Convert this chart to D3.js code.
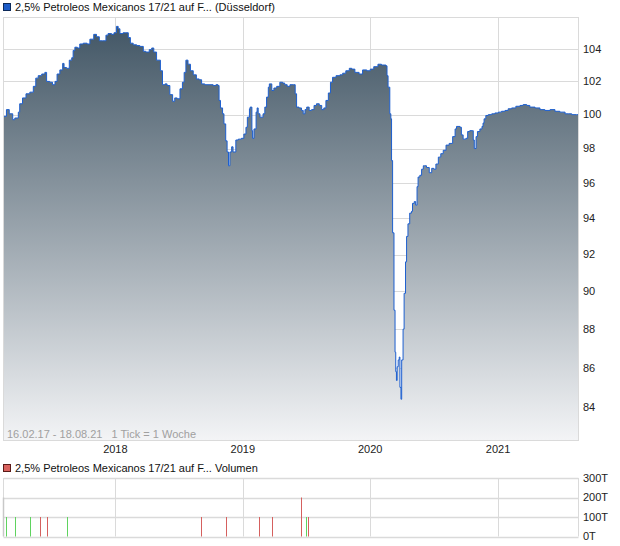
<!DOCTYPE html>
<html>
<head>
<meta charset="utf-8">
<script src="https://cdn.jsdelivr.net/npm/d3@7"></script>
<style>
  html, body { margin: 0; padding: 0; background: #fff; }
  svg { display: block; font-family: "Liberation Sans", Arial, sans-serif; }
</style>
</head>
<body>
<svg id="chart" width="620" height="546"></svg>
<script>
// ---------- DATA ----------
const priceDates = [
"2017-02-16","2017-02-23","2017-03-03","2017-03-13","2017-03-19","2017-03-29","2017-04-02","2017-04-10","2017-04-20","2017-05-01",
"2017-05-11","2017-05-18","2017-05-25","2017-06-04","2017-06-13","2017-06-18","2017-06-27","2017-07-05","2017-07-12","2017-07-18",
"2017-07-26","2017-08-03","2017-08-07","2017-08-14","2017-08-22","2017-08-29","2017-09-02","2017-09-07","2017-09-14","2017-09-21",
"2017-10-01","2017-10-12","2017-10-20","2017-10-31","2017-11-08","2017-11-16","2017-11-25","2017-12-05","2017-12-11","2017-12-21",
"2017-12-28","2018-01-04","2018-01-09","2018-01-14","2018-01-23","2018-01-31","2018-02-07","2018-02-13","2018-02-21","2018-03-03",
"2018-03-12","2018-03-22","2018-03-29","2018-04-08","2018-04-15","2018-04-21","2018-04-29","2018-05-06","2018-05-10","2018-05-16",
"2018-05-23","2018-05-29","2018-06-06","2018-06-14","2018-06-20","2018-06-27","2018-07-05","2018-07-12","2018-07-17","2018-07-22",
"2018-07-28","2018-08-04","2018-08-12","2018-08-21","2018-08-29","2018-09-05","2018-09-14","2018-09-29","2018-10-08","2018-10-16",
"2018-10-22","2018-10-25","2018-10-29","2018-11-04","2018-11-08","2018-11-13","2018-11-17","2018-11-21","2018-11-25","2018-11-30",
"2018-12-04","2018-12-12","2018-12-19","2018-12-28","2019-01-04","2019-01-10","2019-01-14","2019-01-20","2019-01-22","2019-01-27",
"2019-01-29","2019-02-02","2019-02-08","2019-02-11","2019-02-14","2019-02-19","2019-02-28","2019-03-05","2019-03-10","2019-03-15",
"2019-03-18","2019-03-25","2019-03-31","2019-04-08","2019-04-17","2019-04-25","2019-05-01","2019-05-08","2019-05-16","2019-05-27",
"2019-05-31","2019-06-04","2019-06-11","2019-06-18","2019-06-23","2019-06-28","2019-07-03","2019-07-10","2019-07-17","2019-07-24",
"2019-07-31","2019-08-08","2019-08-15","2019-08-21","2019-08-27","2019-09-03","2019-09-09","2019-09-15","2019-09-25","2019-10-06",
"2019-10-14","2019-10-23","2019-11-02","2019-11-09","2019-11-18","2019-11-30","2019-12-10","2019-12-22","2020-01-01","2020-01-11",
"2020-01-23","2020-02-02","2020-02-15","2020-02-18","2020-02-21","2020-02-26","2020-02-29","2020-03-02","2020-03-05","2020-03-09",
"2020-03-12","2020-03-14","2020-03-16","2020-03-18","2020-03-21","2020-03-24","2020-03-26","2020-03-29","2020-03-31","2020-04-04",
"2020-04-07","2020-04-11","2020-04-14","2020-04-18","2020-04-23","2020-04-28","2020-05-01","2020-05-06","2020-05-10","2020-05-14",
"2020-05-17","2020-05-22","2020-05-27","2020-06-01","2020-06-05","2020-06-10","2020-06-18","2020-06-25","2020-07-01","2020-07-07",
"2020-07-14","2020-07-21","2020-07-28","2020-08-05","2020-08-14","2020-08-24","2020-08-31","2020-09-04","2020-09-14","2020-09-18",
"2020-09-23","2020-10-01","2020-10-06","2020-10-12","2020-10-19","2020-10-22","2020-10-25","2020-10-30","2020-11-03","2020-11-10",
"2020-11-16","2020-11-19","2020-11-22","2020-11-27","2020-12-04","2020-12-14","2020-12-23","2021-01-02","2021-01-11","2021-01-21",
"2021-01-30","2021-02-09","2021-02-21","2021-03-05","2021-03-14","2021-03-24","2021-04-02","2021-04-17","2021-05-01","2021-05-15",
"2021-05-30","2021-06-13","2021-06-27","2021-07-12","2021-07-21","2021-07-31","2021-08-14","2021-08-18"
];
const priceValues = [
99.9,100.3,100.05,99.7,99.8,100.15,100.65,101.0,101.25,101.35,
101.7,102.2,102.35,102.45,102.55,102.0,101.95,101.8,102.0,102.45,
102.7,103.1,102.85,102.8,103.3,103.45,103.9,104.1,104.05,104.3,
104.35,104.3,104.6,104.9,104.75,104.5,104.5,104.85,104.95,104.9,
105.0,105.4,105.25,104.95,105.0,105.0,104.7,104.35,104.25,104.2,
104.15,103.85,103.8,103.95,104.05,103.8,103.3,103.3,102.65,101.8,
101.85,101.75,101.2,100.8,101.0,100.95,101.55,101.95,102.55,103.3,
103.05,102.65,102.4,102.15,102.1,101.85,101.8,101.8,101.75,101.8,
101.75,100.85,100.4,100.05,99.45,98.45,97.8,97.0,97.8,98.1,
97.8,98.5,98.55,98.6,98.85,99.25,99.85,100.35,100.45,99.05,
98.6,99.15,100.15,100.4,100.05,99.85,100.05,100.45,101.05,101.65,
101.85,101.45,101.6,101.7,101.95,101.9,101.8,101.7,101.8,101.8,
101.25,100.45,100.4,100.25,100.05,100.3,100.45,100.25,100.3,100.55,
100.65,100.55,100.3,100.4,100.85,101.3,101.95,102.25,102.35,102.4,
102.5,102.65,102.8,102.75,102.55,102.45,102.7,102.65,102.75,102.9,
103.05,103.0,102.95,102.35,101.65,100.05,99.75,97.3,93.2,89.0,
86.8,85.8,85.35,86.05,86.4,86.55,85.0,84.4,86.4,88.0,
89.9,91.6,93.0,93.7,94.3,94.4,94.85,94.95,94.75,95.8,
96.35,96.45,96.8,97.0,97.0,96.9,96.6,96.85,96.8,97.1,
97.5,97.7,97.9,98.2,98.3,98.7,99.15,99.3,99.25,98.8,
98.55,98.6,99.0,99.05,99.05,98.5,98.0,98.7,99.0,99.15,
99.3,99.5,99.75,99.95,100.0,100.05,100.1,100.15,100.2,100.25,
100.35,100.4,100.5,100.55,100.6,100.55,100.45,100.4,100.3,100.25,
100.3,100.2,100.15,100.05,100.05,100.0,100.0,100.0
];
const priceTicks = [84, 86, 88, 90, 92, 94, 96, 98, 100, 102, 104];
const yearTicks = ["2018-01-01", "2019-01-01", "2020-01-01", "2021-01-01"];

const volumeDates = ["2017-02-23","2017-03-20","2017-05-02","2017-05-31","2017-06-20","2017-08-16",
                     "2018-09-04","2018-11-13","2019-02-17","2019-03-26","2019-06-17","2019-07-01","2019-07-07"];
const volumeValues = [100000,100000,100000,100000,100000,100000,100000,100000,100000,100000,200000,100000,100000];
const volumeUp = [true,true,true,false,false,true,false,false,false,false,false,true,false];
const volumeTicks = [0, 100000, 200000, 300000];

const titleMain = "2,5% Petroleos Mexicanos 17/21 auf F... (Düsseldorf)";
const titleVol = "2,5% Petroleos Mexicanos 17/21 auf F... Volumen";
const rangeText = "16.02.17 - 18.08.21   1 Tick = 1 Woche";
const startDate = "2017-02-16", endDate = "2021-08-18";

// ---------- LAYOUT ----------
const parse = d3.utcParse("%Y-%m-%d");
const L = 3.5, R = 578.5;
const mainTop = 17.5, mainBot = 440.5;
const volTop = 478, volBot = 536.5;

const svg = d3.select("#chart");
const x = d3.scaleUtc().domain([parse(startDate), parse(endDate)]).range([4, 578]);
const y = d3.scaleLog().domain([82.35, 105.96]).range([mainBot, mainTop]);
const yv = d3.scaleLinear().domain([0, 300000]).range([volBot, volTop]);

const data = priceDates.map((d, i) => ({ date: parse(d), value: priceValues[i] }));

// gradient
const defs = svg.append("defs");
const grad = defs.append("linearGradient").attr("id", "areaGrad")
  .attr("gradientUnits", "userSpaceOnUse").attr("x1", 0).attr("x2", 0)
  .attr("y1", mainTop + 10).attr("y2", mainBot);
grad.append("stop").attr("offset", "0%").attr("stop-color", "#435766");
grad.append("stop").attr("offset", "100%").attr("stop-color", "#f3f4f6");
defs.append("clipPath").attr("id", "clipMain").append("rect")
  .attr("x", L).attr("y", mainTop).attr("width", R - L).attr("height", mainBot - mainTop);

const gridColor = "#dadada";

// main grid
const gMain = svg.append("g");
gMain.selectAll(".hg").data(priceTicks).join("line")
  .attr("x1", L).attr("x2", R)
  .attr("y1", d => Math.round(y(d)) + 0.5).attr("y2", d => Math.round(y(d)) + 0.5)
  .attr("stroke", gridColor).attr("stroke-width", 1);
gMain.selectAll(".vg").data(yearTicks).join("line")
  .attr("x1", d => Math.round(x(parse(d))) + 0.5).attr("x2", d => Math.round(x(parse(d))) + 0.5)
  .attr("y1", mainTop).attr("y2", mainBot)
  .attr("stroke", gridColor).attr("stroke-width", 1);

// area + line
const area = d3.area().curve(d3.curveStepAfter)
  .x(d => x(d.date)).y0(mainBot).y1(d => y(d.value));
const line = d3.line().curve(d3.curveStepAfter)
  .x(d => x(d.date)).y(d => y(d.value));
const gPlot = svg.append("g").attr("clip-path", "url(#clipMain)");
gPlot.append("path").datum(data).attr("d", area).attr("fill", "url(#areaGrad)");
gPlot.append("path").datum(data).attr("d", line)
  .attr("fill", "none").attr("stroke", "#1d5fcf").attr("stroke-width", 1);

// frame
svg.append("rect").attr("x", L).attr("y", mainTop).attr("width", R - L).attr("height", mainBot - mainTop)
  .attr("fill", "none").attr("stroke", gridColor).attr("stroke-width", 1);

// y axis labels
svg.append("g").selectAll("text").data(priceTicks).join("text")
  .attr("x", 583).attr("y", d => y(d)).attr("dy", "0.35em")
  .attr("font-size", 11).attr("fill", "#222").text(d => d);

// x axis labels
svg.append("g").selectAll("text").data(yearTicks).join("text")
  .attr("x", d => x(parse(d))).attr("y", 453).attr("text-anchor", "middle")
  .attr("font-size", 11).attr("fill", "#222").text(d => d.slice(0, 4));

// range text
svg.append("text").attr("x", 7).attr("y", 438).attr("font-size", 11).attr("fill", "#a0a0a0")
  .text(rangeText).attr("xml:space", "preserve").style("white-space", "pre");

// main title
svg.append("rect").attr("x", 3.5).attr("y", 3.5).attr("width", 7).attr("height", 7)
  .attr("fill", "#1d5cc8").attr("stroke", "#0d2a5a").attr("stroke-width", 1);
svg.append("text").attr("x", 15).attr("y", 11).attr("font-size", 11).attr("fill", "#111").text(titleMain);

// ---------- VOLUME ----------
svg.append("rect").attr("x", 3.5).attr("y", 464.5).attr("width", 7).attr("height", 7)
  .attr("fill", "#d9625e").attr("stroke", "#5a1a18").attr("stroke-width", 1);
svg.append("text").attr("x", 15).attr("y", 472).attr("font-size", 11).attr("fill", "#111").text(titleVol);

const gVol = svg.append("g");
gVol.selectAll(".hg").data(volumeTicks).join("line")
  .attr("x1", L).attr("x2", R)
  .attr("y1", d => Math.round(yv(d)) + 0.5).attr("y2", d => Math.round(yv(d)) + 0.5)
  .attr("stroke", gridColor).attr("stroke-width", 1.5);
gVol.selectAll(".vg").data(yearTicks).join("line")
  .attr("x1", d => Math.round(x(parse(d))) + 0.5).attr("x2", d => Math.round(x(parse(d))) + 0.5)
  .attr("y1", volTop).attr("y2", volBot)
  .attr("stroke", gridColor).attr("stroke-width", 1);
gVol.append("line").attr("x1", L).attr("x2", L).attr("y1", volTop).attr("y2", volBot)
  .attr("stroke", gridColor).attr("stroke-width", 1);
gVol.append("line").attr("x1", L).attr("x2", L).attr("y1", yv(200000)).attr("y2", volBot)
  .attr("stroke", "#c8c8c8").attr("stroke-width", 1.5);
gVol.append("line").attr("x1", R).attr("x2", R).attr("y1", volTop).attr("y2", volBot)
  .attr("stroke", gridColor).attr("stroke-width", 1);

gVol.selectAll(".bar").data(volumeDates).join("line")
  .attr("x1", d => Math.round(x(parse(d))) + 0.5).attr("x2", d => Math.round(x(parse(d))) + 0.5)
  .attr("y1", yv(0)).attr("y2", (d, i) => yv(volumeValues[i]))
  .attr("stroke", (d, i) => volumeUp[i] ? "#5fd35f" : "#d5605e").attr("stroke-width", 1);

svg.append("g").selectAll("text").data(volumeTicks).join("text")
  .attr("x", 583).attr("y", d => yv(d)).attr("dy", "0.35em")
  .attr("font-size", 11).attr("fill", "#222").text(d => (d / 1000) + "T");
</script>
</body>
</html>
